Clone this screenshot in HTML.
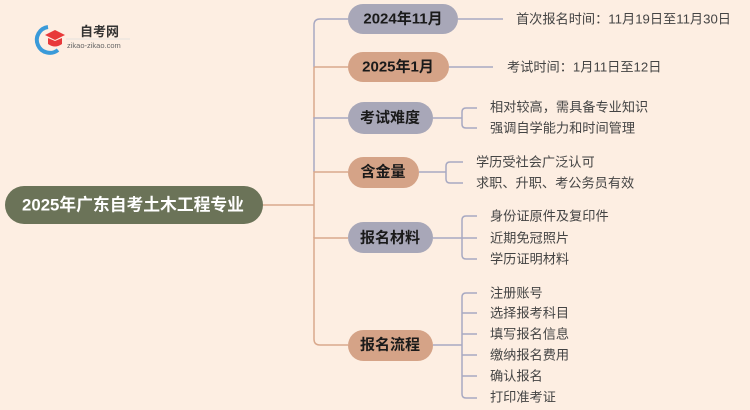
<!DOCTYPE html>
<html><head><meta charset="utf-8"><style>
body{margin:0;background:#fdeee2;}
svg{display:block;}
text{font-family:"Liberation Sans","Noto Sans CJK SC",sans-serif;}
.n{font-size:15px;font-weight:bold;fill:#1a1a1a;text-anchor:middle;dominant-baseline:central;}
.l{font-size:13.2px;fill:#444;dominant-baseline:central;}
</style></head><body>
<svg width="750" height="410" viewBox="0 0 750 410">
<rect width="750" height="410" fill="#fdeee2"/>
<!-- logo -->
<path d="M48 27 A13 13 0 1 0 58 50" fill="none" stroke="#3a9ad9" stroke-width="4"/>
<polygon points="45,35 55,30 65,35 55,40" fill="#e8393a"/>
<path d="M48 38 L48 44 Q55 49 62 44 L62 38 L55 41 Z" fill="#e8393a"/>
<text x="80" y="36" style="font-size:13px;font-weight:bold;fill:#333">自考网</text>
<line x1="66" y1="39" x2="130" y2="39" stroke="#ddd" stroke-width="0.7"/>
<text x="67" y="48" style="font-size:7.5px;fill:#666">zikao-zikao.com</text>
<!-- root -->
<line x1="263" y1="205" x2="314" y2="205" stroke="#d9a88c" stroke-width="1.5"/>
<rect x="5" y="186" width="258" height="38" rx="19" fill="#6b7358"/>
<text x="133" y="205" class="n" style="fill:#fff;font-size:16.8px">2025年广东自考土木工程专业</text>
<!-- spine -->
<g fill="none" stroke-width="1.5">
<path d="M348 19 H320 Q314 19 314 25 V67" stroke="#a8a9c2"/>
<path d="M314 67 V118" stroke="#d9a88c"/>
<path d="M348 67 H314" stroke="#d9a88c"/>
<path d="M348 118 H314 V172" stroke="#a8a9c2"/>
<path d="M348 172 H314 V238" stroke="#d9a88c"/>
<path d="M348 238 H314 V339 Q314 345 320 345 H348" stroke="#d9a88c"/>
<!-- leaf connectors -->
<g stroke="#a8a9c2">
<path d="M458 19 H503"/>
<path d="M449 67 H493"/>
<path d="M433 118 H462 M477 108 H466 Q462 108 462 112 V124 Q462 128 466 128 H477"/>
<path d="M419 172 H446 M463 162 H450 Q446 162 446 166 V179 Q446 183 450 183 H463"/>
<path d="M433 238 H462 M477 216 H466 Q462 216 462 220 V255 Q462 259 466 259 H477 M462 238 H477"/>
<path d="M433 345 H462 M477 293 H466 Q462 293 462 297 V394 Q462 398 466 398 H477 M462 313 H477 M462 334 H477 M462 355 H477 M462 376 H477"/>
</g>
</g>
<!-- nodes -->
<rect x="348" y="4" width="110" height="30" rx="15" fill="#a8a7b8"/>
<text x="403" y="19" class="n">2024年11月</text>
<rect x="348" y="52" width="101" height="30" rx="15" fill="#d5a387"/>
<text x="398" y="67" class="n">2025年1月</text>
<rect x="348" y="102" width="85" height="32" rx="16" fill="#a8a7b8"/>
<text x="390" y="118" class="n">考试难度</text>
<rect x="348" y="157" width="71" height="31" rx="15.5" fill="#d5a387"/>
<text x="383" y="172" class="n">含金量</text>
<rect x="348" y="222" width="85" height="31" rx="15.5" fill="#a8a7b8"/>
<text x="390" y="238" class="n">报名材料</text>
<rect x="348" y="330" width="85" height="31" rx="15.5" fill="#d5a387"/>
<text x="390" y="345" class="n">报名流程</text>
<!-- leaves -->
<text x="516" y="19" class="l">首次报名时间：11月19日至11月30日</text>
<text x="507" y="67" class="l">考试时间：1月11日至12日</text>
<text x="490" y="107" class="l">相对较高，需具备专业知识</text>
<text x="490" y="128" class="l">强调自学能力和时间管理</text>
<text x="476" y="162" class="l">学历受社会广泛认可</text>
<text x="476" y="183" class="l">求职、升职、考公务员有效</text>
<text x="490" y="216" class="l">身份证原件及复印件</text>
<text x="490" y="238" class="l">近期免冠照片</text>
<text x="490" y="259" class="l">学历证明材料</text>
<text x="490" y="293" class="l">注册账号</text>
<text x="490" y="313" class="l">选择报考科目</text>
<text x="490" y="334" class="l">填写报名信息</text>
<text x="490" y="355" class="l">缴纳报名费用</text>
<text x="490" y="376" class="l">确认报名</text>
<text x="490" y="397" class="l">打印准考证</text>
</svg>
</body></html>
